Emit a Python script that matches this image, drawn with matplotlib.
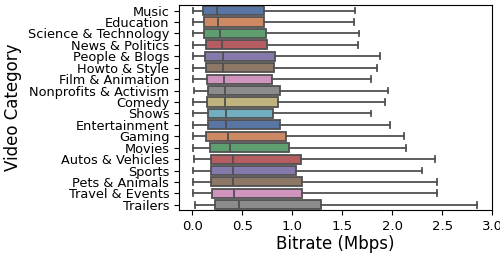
import colorsys
import matplotlib
matplotlib.use("Agg")
import matplotlib.pyplot as plt
import matplotlib.colors as mcolors

# categories, top to bottom
categories = ["Music", "Education", "Science & Technology", "News & Politics",
              "People & Blogs", "Howto & Style", "Film & Animation",
              "Nonprofits & Activism", "Comedy", "Shows", "Entertainment",
              "Gaming", "Movies", "Autos & Vehicles", "Sports",
              "Pets & Animals", "Travel & Events", "Trailers"]

# box statistics (Mbps)
whislo = [0.01, 0.01, 0.01, 0.01, 0.01, 0.01, 0.01, 0.02, 0.01, 0.01,
          0.01, 0.01, 0.01, 0.02, 0.01, 0.01, 0.01, 0.03]
q1 = [0.11, 0.12, 0.12, 0.14, 0.13, 0.14, 0.15, 0.16, 0.15, 0.16,
      0.16, 0.14, 0.18, 0.19, 0.19, 0.19, 0.20, 0.23]
med = [0.25, 0.26, 0.28, 0.30, 0.31, 0.31, 0.32, 0.33, 0.33, 0.34,
       0.34, 0.36, 0.38, 0.41, 0.41, 0.41, 0.42, 0.47]
q3 = [0.72, 0.72, 0.74, 0.75, 0.83, 0.82, 0.80, 0.88, 0.86, 0.81,
      0.88, 0.94, 0.97, 1.09, 1.04, 1.10, 1.10, 1.29]
whishi = [1.63, 1.62, 1.67, 1.66, 1.88, 1.85, 1.79, 1.96, 1.93, 1.79,
          1.98, 2.12, 2.14, 2.43, 2.30, 2.45, 2.45, 2.85]

deep = ['#4C72B0', '#DD8452', '#55A868', '#C44E52', '#8172B3',
        '#937860', '#DA8BC3', '#8C8C8C', '#CCB974', '#64B5CD']


def desat(c, prop=0.75):
    r, g, b = mcolors.to_rgb(c)
    h, l, s = colorsys.rgb_to_hls(r, g, b)
    return colorsys.hls_to_rgb(h, l, s * prop)


stats = []
for i, name in enumerate(categories):
    stats.append(dict(label=name, whislo=whislo[i], q1=q1[i], med=med[i],
                      q3=q3[i], whishi=whishi[i], fliers=[]))

fig = plt.figure(figsize=(5, 2.57), dpi=100)
ax = fig.add_axes([0.358, 0.181, 0.626, 0.8])

gray = '#505050'
lw = 1.3
pos = list(range(len(categories)))
bp = ax.bxp(stats, positions=pos, vert=False, widths=0.8, patch_artist=True,
            showfliers=False,
            boxprops=dict(edgecolor=gray, linewidth=lw),
            medianprops=dict(color=gray, linewidth=lw),
            whiskerprops=dict(color=gray, linewidth=lw),
            capprops=dict(color=gray, linewidth=lw))
for i, box in enumerate(bp['boxes']):
    box.set_facecolor(desat(deep[i % len(deep)]))
for cap in bp['caps']:
    # short caps like seaborn
    y = cap.get_ydata()
    c = (y[0] + y[1]) / 2
    cap.set_ydata([c - 0.25, c + 0.25])

ax.set_ylim(len(categories) - 0.5, -0.5)
ax.set_yticks(pos)
ax.set_yticklabels(categories, fontsize=9.3)
ax.set_xticks([0.0, 0.5, 1.0, 1.5, 2.0, 2.5, 3.0])
ax.tick_params(axis='x', labelsize=9.5)
ax.set_xlim(-0.135, 3.0)
ax.set_xlabel("Bitrate (Mbps)", fontsize=12, labelpad=1)
ax.set_ylabel("Video Category", fontsize=12)

fig.savefig("out.png", dpi=100)
